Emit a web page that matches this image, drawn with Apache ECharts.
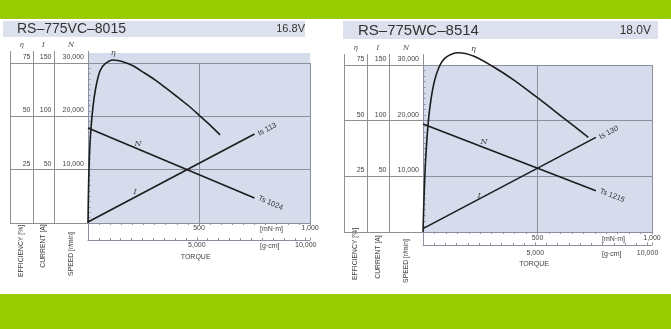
<!DOCTYPE html>
<html><head><meta charset="utf-8">
<script src="https://cdn.jsdelivr.net/npm/echarts@6/dist/echarts.min.js"></script>
<style>html,body{margin:0;padding:0;background:#fff}#c{width:671px;height:329px}</style>
</head><body><div id="c"></div>
<script>
// ---------- DATA ----------
// Left motor
const leftTitle = 'RS\u2013775VC\u20138015';
const leftVoltage = '16.8V';
const leftEffTorque = [0, 2, 5, 10, 18, 28, 40, 55, 75, 113, 160, 200, 250, 300, 350, 400, 450, 500, 550, 595];
const leftEff       = [0, 14, 27, 39, 50, 59, 66, 71.5, 74.5, 76.4, 75.5, 73.8, 70.6, 67.2, 63.3, 59.3, 55.2, 50.6, 45.9, 41.3];
const leftLineTorque = [0, 750];
const leftSpeed      = [17800, 4700];
const leftCurrent    = [0.9, 83.5];
const leftIs = 113;
const leftTs = 1024;

// Right motor
const rightTitle = 'RS\u2013775WC\u20138514';
const rightVoltage = '18.0V';
const rightEffTorque = [0, 5, 12, 25, 45, 70, 100, 154, 220, 307, 400, 500, 600, 722];
const rightEff       = [0, 17, 33.5, 51.5, 65.5, 74, 78.4, 80.5, 79, 74.2, 68, 60.3, 52.3, 42.5];
const rightLineTorque = [0, 755];
const rightSpeed      = [19400, 7400];
const rightCurrent    = [3, 85];
const rightIs = 130;
const rightTs = 1215;

// Axis ticks
const effTicks     = [0, 25, 50, 75];
const currentTicks = [0, 50, 100, 150];
const speedTicks   = [0, 10000, 20000, 30000];
const torqueTicks  = [0, 500, 1000];       // mN·m
const gcmTicks     = [0, 5000, 10000];     // g·cm
const gcmMax = 10197;                      // 1,000 mN·m in g·cm

// ---------- STYLE ----------
const GREEN = '#99cc00', PLOT_BG = '#d6dcec', BAND_BG = '#dde1ed';
const GRID_C = '#8a909d', COL_C = '#909090', INK = '#1c1c1c', TXT = '#444';
const SANS = '"Liberation Sans", Arial, sans-serif';
const SERIF = '"DejaVu Serif", "Liberation Serif", serif';
const fmt = v => String(v).replace(/\B(?=(\d{3})+(?!\d))/g, ',');

const panels = [
  { d: { title: leftTitle, volt: leftVoltage, effT: leftEffTorque, eff: leftEff, lineT: leftLineTorque,
         speed: leftSpeed, cur: leftCurrent, is: leftIs, ts: leftTs },
    g: { L: 88, T: 63, W: 222, H: 160, bgTop: 53, colL: 10, effX: 33, curX: 54, gcmH: 17, colTop: 51,
         xMargin: 2, gMargin: 2, etaIdx: 9, iRot: 28, nRot: -23, nOff: [50, 16], iOff: [47, -30],
         band: [3, 21, 302, 16], titleX: 17, titleY: 29, titleSize: 14, voltX: 305, voltSize: 11,
         hdrY: 45, torqueY: 257, unitX: 260, rotY: [251, 246, 254] } },
  { d: { title: rightTitle, volt: rightVoltage, effT: rightEffTorque, eff: rightEff, lineT: rightLineTorque,
         speed: rightSpeed, cur: rightCurrent, is: rightIs, ts: rightTs },
    g: { L: 423, T: 65, W: 229, H: 167, bgTop: 65, colL: 344, effX: 367, curX: 389, gcmH: 13, colTop: 54,
         xMargin: 3, gMargin: 5, etaIdx: 8, iRot: 28, nRot: -21, nOff: [61, 18], iOff: [56, -33],
         band: [343, 21, 315, 18], titleX: 358, titleY: 30.5, titleSize: 15, voltX: 651, voltSize: 12,
         hdrY: 48, torqueY: 264, unitX: 602, rotY: [254, 257, 261] } }
];

const grid = [], xAxis = [], yAxis = [], series = [], graphic = [];
graphic.push({ type: 'rect', shape: { x: 0, y: 0, width: 671, height: 19 }, style: { fill: GREEN } });
graphic.push({ type: 'rect', shape: { x: 0, y: 294, width: 671, height: 35 }, style: { fill: GREEN } });

const step = a => a[1] - a[0];
const tickLbl = { fontSize: 7, color: TXT, fontFamily: SANS };
const lineLbl = { fontSize: 8, color: TXT, fontFamily: SERIF, fontStyle: 'italic' };
const endLbl = { fontSize: 7.5, color: '#333', fontFamily: SANS };

panels.forEach((p, k) => {
  const d = p.d, g = p.g;
  const gi = k * 4, yi = k * 6;
  // grids: background, plot, columns, g·cm
  grid.push({ left: g.L, top: g.bgTop, width: g.W, height: g.T + g.H - g.bgTop, show: true,
              backgroundColor: PLOT_BG, borderWidth: 0, outerBoundsMode: 'none' });
  grid.push({ left: g.L, top: g.T, width: g.W, height: g.H, show: false, outerBoundsMode: 'none' });
  grid.push({ left: g.colL, top: g.T, width: g.L - g.colL, height: g.H, show: false, outerBoundsMode: 'none' });
  grid.push({ left: g.L, top: g.T + g.H, width: g.W, height: g.gcmH, show: false, outerBoundsMode: 'none' });

  const hidden = gidx => ({ gridIndex: gidx, type: 'value', show: false, min: 0, max: 1 });
  // x axes
  xAxis.push(hidden(gi));
  xAxis.push({ gridIndex: gi + 1, type: 'value', min: torqueTicks[0], max: torqueTicks[torqueTicks.length - 1],
    interval: step(torqueTicks), position: 'bottom',
    axisLine: { show: true, onZero: false, lineStyle: { color: GRID_C, width: 1 } },
    axisTick: { show: true, length: 2.5, lineStyle: { color: GRID_C } },
    minorTick: { show: true, splitNumber: 10, length: 2, lineStyle: { color: GRID_C } },
    splitLine: { show: true, lineStyle: { color: GRID_C, width: 1 } },
    minorSplitLine: { show: false },
    axisLabel: Object.assign({ margin: g.xMargin, formatter: v => v === 0 ? '' : fmt(v) }, tickLbl) });
  xAxis.push(hidden(gi + 2));
  xAxis.push({ gridIndex: gi + 3, type: 'value', min: gcmTicks[0], max: gcmMax, interval: step(gcmTicks),
    position: 'bottom',
    axisLine: { show: true, onZero: false, lineStyle: { color: GRID_C, width: 1 } },
    axisTick: { show: true, inside: true, length: 2.5, lineStyle: { color: GRID_C } },
    minorTick: { show: true, splitNumber: 10, length: 2, lineStyle: { color: GRID_C } },
    splitLine: { show: false },
    axisLabel: Object.assign({ margin: g.gMargin, showMaxLabel: true,
      formatter: v => (v > 0 && v % step(gcmTicks) === 0) ? fmt(v) : '' }, tickLbl) });

  // y axes
  yAxis.push(hidden(gi));
  const yLabel = m => Object.assign({ margin: m, verticalAlign: 'bottom', lineHeight: 12,
                                      formatter: v => v === 0 ? '' : fmt(v) }, tickLbl);
  yAxis.push({ gridIndex: gi + 1, type: 'value', position: 'left', offset: 0,
    min: speedTicks[0], max: speedTicks[speedTicks.length - 1], interval: step(speedTicks),
    axisLine: { show: true, onZero: false, lineStyle: { color: GRID_C, width: 1 } },
    axisTick: { show: true, inside: true, length: 3, lineStyle: { color: GRID_C } },
    minorTick: { show: true, splitNumber: 10, length: 2.5, lineStyle: { color: GRID_C } },
    splitLine: { show: true, lineStyle: { color: GRID_C, width: 1 } },
    axisLabel: yLabel(4) });
  yAxis.push({ gridIndex: gi + 1, type: 'value', position: 'left', offset: g.L - g.curX,
    min: currentTicks[0], max: currentTicks[currentTicks.length - 1], interval: step(currentTicks),
    axisLine: { show: true, onZero: false, lineStyle: { color: COL_C, width: 1 } },
    axisTick: { show: false }, splitLine: { show: false }, axisLabel: yLabel(2.5) });
  yAxis.push({ gridIndex: gi + 1, type: 'value', position: 'left', offset: g.L - g.effX,
    min: effTicks[0], max: effTicks[effTicks.length - 1], interval: step(effTicks),
    axisLine: { show: true, onZero: false, lineStyle: { color: COL_C, width: 1 } },
    axisTick: { show: false }, splitLine: { show: false }, axisLabel: yLabel(2.5) });
  yAxis.push({ gridIndex: gi + 2, type: 'value', position: 'left',
    min: speedTicks[0], max: speedTicks[speedTicks.length - 1], interval: step(speedTicks),
    axisLine: { show: true, onZero: false, lineStyle: { color: COL_C, width: 1 } },
    axisTick: { show: false }, axisLabel: { show: false },
    splitLine: { show: true, lineStyle: { color: COL_C, width: 1 } } });
  yAxis.push({ gridIndex: gi + 3, type: 'value', position: 'left', min: 0, max: 1,
    axisLine: { show: true, onZero: false, lineStyle: { color: GRID_C, width: 1 } },
    axisTick: { show: false }, axisLabel: { show: false }, splitLine: { show: false } });

  const common = { type: 'line', xAxisIndex: gi + 1, symbol: 'circle', symbolSize: 0, showSymbol: true,
    silent: true, clip: false, animation: false, emphasis: { disabled: true },
    lineStyle: { color: INK, width: 1.6 }, itemStyle: { color: INK } };

  // speed N
  series.push(Object.assign({}, common, { name: 'N' + k, yAxisIndex: yi + 1,
    data: d.lineT.map((t, i) => {
      const item = { value: [t, d.speed[i]] };
      if (i === 0) item.label = Object.assign({ show: true, formatter: 'N', position: 'inside', offset: g.nOff }, lineLbl);
      if (i === d.lineT.length - 1) item.label = Object.assign({ show: true, formatter: 'Ts ' + d.ts,
        position: 'right', distance: 4, rotate: g.nRot }, endLbl);
      return item;
    }) }));
  // current I
  series.push(Object.assign({}, common, { name: 'I' + k, yAxisIndex: yi + 2,
    data: d.lineT.map((t, i) => {
      const item = { value: [t, d.cur[i]] };
      if (i === 0) item.label = Object.assign({ show: true, formatter: 'I', position: 'inside', offset: g.iOff }, lineLbl);
      if (i === d.lineT.length - 1) item.label = Object.assign({ show: true, formatter: 'Is ' + d.is,
        position: 'right', distance: 4, rotate: g.iRot }, endLbl);
      return item;
    }) }));
  // efficiency η
  series.push(Object.assign({}, common, { name: 'eta' + k, yAxisIndex: yi + 3, smooth: 0.3,
    data: d.effT.map((t, i) => {
      const item = { value: [t, d.eff[i]] };
      if (i === g.etaIdx) item.label = Object.assign({ show: true, formatter: '\u03b7', position: 'top', distance: 3 }, lineLbl);
      return item;
    }) }));

  // decorations & texts
  graphic.push({ type: 'rect', shape: { x: g.band[0], y: g.band[1], width: g.band[2], height: g.band[3] }, style: { fill: BAND_BG } });
  [g.colL, g.effX, g.curX, g.L].forEach(x => graphic.push({ type: 'line',
    shape: { x1: x + 0.5, y1: g.colTop, x2: x + 0.5, y2: g.T }, style: { stroke: COL_C, lineWidth: 1 } }));
  graphic.push({ type: 'text', x: g.titleX, y: g.titleY, style: { text: d.title, fill: '#333',
    font: g.titleSize + 'px ' + SANS, textAlign: 'left', textVerticalAlign: 'middle' } });
  graphic.push({ type: 'text', x: g.voltX, y: g.titleY, style: { text: d.volt, fill: '#333',
    font: g.voltSize + 'px ' + SANS, textAlign: 'right', textVerticalAlign: 'middle' } });
  const hdr = [['\u03b7', (g.colL + g.effX) / 2], ['I', (g.effX + g.curX) / 2], ['N', (g.curX + g.L) / 2]];
  hdr.forEach(h => graphic.push({ type: 'text', x: h[1], y: g.hdrY, style: { text: h[0], fill: TXT,
    font: 'italic 7px ' + SERIF, textAlign: 'center', textVerticalAlign: 'middle' } }));
  const rot = [['EFFICIENCY [%]', (g.colL + g.effX) / 2], ['CURRENT [A]', (g.effX + g.curX) / 2], ['SPEED [r/min]', (g.curX + g.L) / 2]];
  rot.forEach((r, i) => graphic.push({ type: 'text', x: r[1], y: g.rotY[i], rotation: Math.PI / 2,
    style: { text: r[0], fill: '#3a3a3a', font: '6.8px ' + SANS, textAlign: 'center', textVerticalAlign: 'middle' } }));
  graphic.push({ type: 'text', x: g.unitX, y: g.T + g.H + g.xMargin + 4, style: { text: '[mN\u00b7m]', fill: TXT,
    font: '7px ' + SANS, textAlign: 'left', textVerticalAlign: 'middle' } });
  graphic.push({ type: 'text', x: g.unitX, y: g.T + g.H + g.gcmH + g.gMargin + 4, style: { text: '[g\u00b7cm]', fill: TXT,
    font: '7px ' + SANS, textAlign: 'left', textVerticalAlign: 'middle' } });
  graphic.push({ type: 'text', x: g.L + g.W * 0.485, y: g.torqueY, style: { text: 'TORQUE', fill: TXT,
    font: '7px ' + SANS, textAlign: 'center', textVerticalAlign: 'middle' } });
});

const chart = echarts.init(document.getElementById('c'), null, { renderer: 'canvas' });
chart.setOption({ animation: false, backgroundColor: '#fff', grid, xAxis, yAxis, series, graphic,
  tooltip: { show: false } });
</script></body></html>
